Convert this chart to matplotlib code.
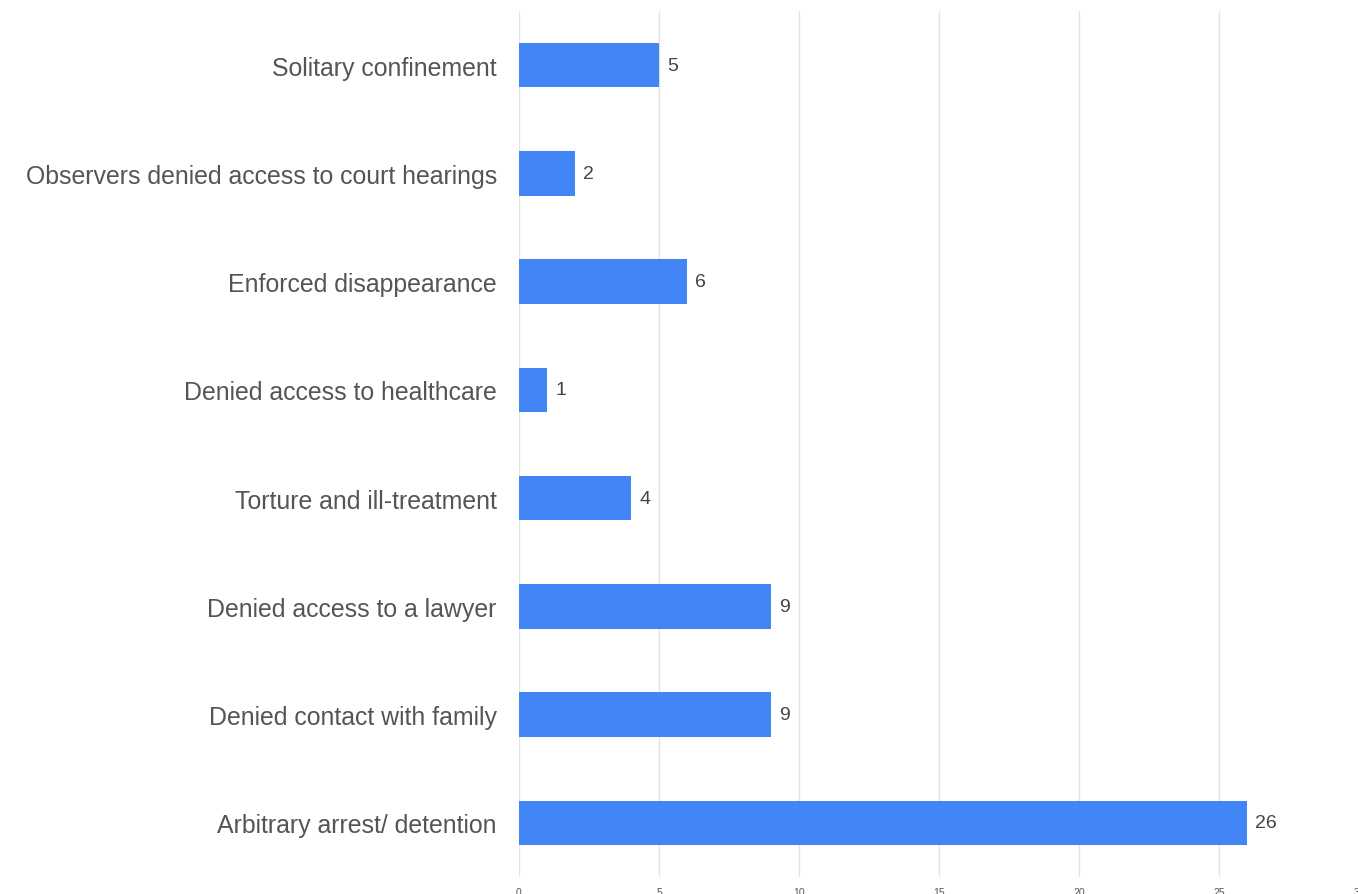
import matplotlib.pyplot as plt

categories = [
    "Arbitrary arrest/ detention",
    "Denied contact with family",
    "Denied access to a lawyer",
    "Torture and ill-treatment",
    "Denied access to healthcare",
    "Enforced disappearance",
    "Observers denied access to court hearings",
    "Solitary confinement",
]
counts = [26, 9, 9, 4, 1, 6, 2, 5]
xticks = [0, 5, 10, 15, 20, 25, 30]

plt.rcParams['font.family'] = ['Liberation Sans', 'DejaVu Sans']

fig = plt.figure(figsize=(13.58, 8.95), dpi=100)
ax = fig.add_axes([519 / 1358, 17 / 895, 840 / 1358, 866 / 895])

ypos = list(range(len(categories)))
ax.barh(ypos, counts, height=0.41, color='#4285f4', zorder=3)

# value labels just past the end of each bar
for y, v in zip(ypos, counts):
    ax.text(v + 0.3, y, str(v), va='center', ha='left', fontsize=14, color='#444444')

ax.set_xlim(0, 30)
ax.set_ylim(-0.5, len(categories) - 0.5)
ax.set_yticks(ypos)
ax.set_yticklabels(categories, fontsize=17.9, color='#555555')
ax.set_xticks(xticks)
ax.set_xticklabels([str(t) for t in xticks], fontsize=7.5, color='#555555')
ax.tick_params(axis='y', length=0, pad=16)
ax.tick_params(axis='x', length=0, pad=7)
ax.grid(axis='x', color='#e3e3e3', linewidth=1.0, zorder=0)
for s in ax.spines.values():
    s.set_visible(False)

fig.savefig('out.png', dpi=100)
